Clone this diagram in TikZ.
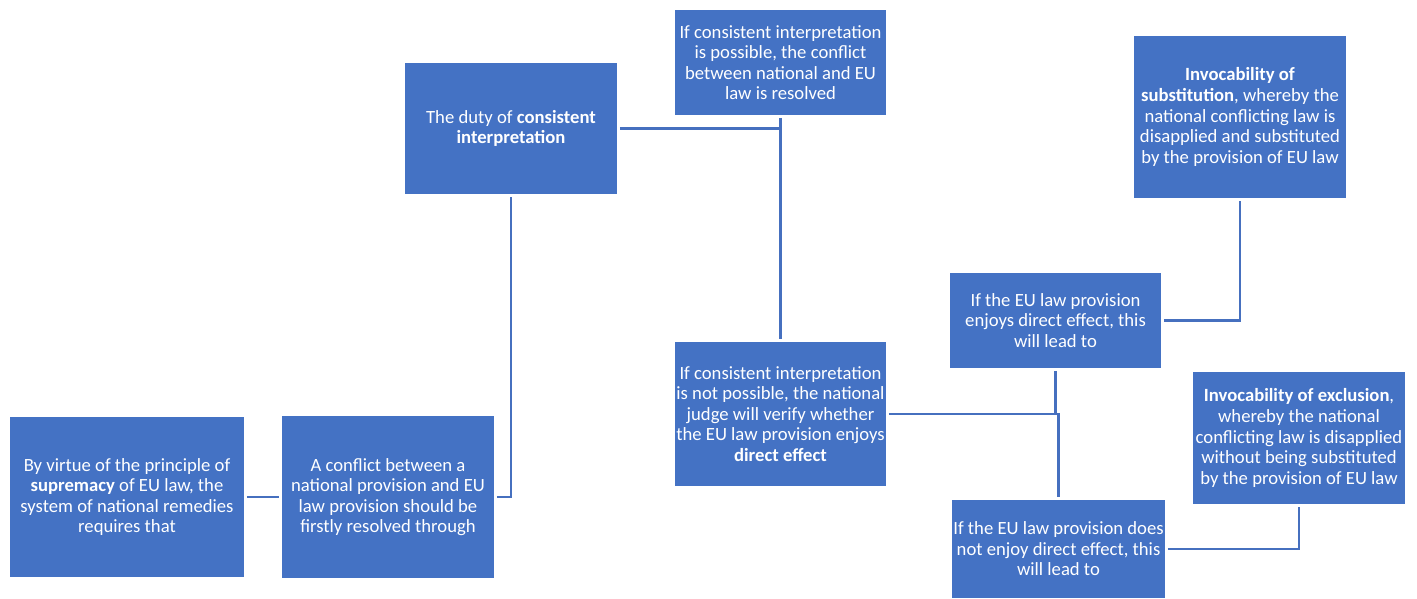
\documentclass[tikz,border=0pt]{standalone}
\usepackage{fontspec}
\setmainfont{Carlito}
\definecolor{boxblue}{HTML}{4472C4}
\definecolor{lineblue}{HTML}{4670BF}
\tikzset{
    lawbox/.style={fill=boxblue,text=white,align=center,inner sep=0pt,
        font=\fontsize{14pt}{15.4pt}\selectfont},
    link/.style={draw=lineblue,line width=2pt,shorten <=2pt,shorten >=2pt},
}

\begin{document}
\begin{tikzpicture}[x=0.75pt,y=-0.75pt]
    \useasboundingbox (0,0) rectangle (1417,599);
    % boxes
    \node[lawbox,minimum width=175.5pt,minimum height=120pt] (sup) at (127,497)
        {By virtue of the principle of\\ \textbf{supremacy} of EU law, the\\ system of national remedies\\ requires that};
    \node[lawbox,minimum width=159pt,minimum height=121.5pt] (conf) at (388,497)
        {A conflict between a\\ national provision and EU\\ law provision should be\\ firstly resolved through};
    \node[lawbox,minimum width=159pt,minimum height=98.25pt] (duty) at (511,128.5)
        {The duty of \textbf{consistent}\\ \textbf{interpretation}};
    \node[lawbox,minimum width=158.25pt,minimum height=78.75pt] (ifpos) at (780.5,62.5)
        {If consistent interpretation\\ is possible, the conflict\\ between national and EU\\ law is resolved};
    \node[lawbox,minimum width=158.25pt,minimum height=108pt] (notpos) at (780.5,414)
        {If consistent interpretation\\ is not possible, the national\\ judge will verify whether\\ the EU law provision enjoys\\ \textbf{direct effect}};
    \node[lawbox,minimum width=158.25pt,minimum height=71.25pt] (enjoys) at (1055.5,320.5)
        {If the EU law provision\\ enjoys direct effect, this\\ will lead to};
    \node[lawbox,minimum width=159.75pt,minimum height=73.5pt] (doesnot) at (1058.5,549)
        {If the EU law provision does\\ not enjoy direct effect, this\\ will lead to};
    \node[lawbox,minimum width=159pt,minimum height=121.5pt] (subst) at (1240,117)
        {\textbf{Invocability of}\\ \textbf{substitution}, whereby the\\ national conflicting law is\\ disapplied and substituted\\ by the provision of EU law};
    \node[lawbox,minimum width=159pt,minimum height=99pt] (excl) at (1299,438)
        {\textbf{Invocability of exclusion},\\ whereby the national\\ conflicting law is disapplied\\ without being substituted\\ by the provision of EU law};
    % connectors
    \draw[link] (sup) -- (conf);
    \draw[link] (conf.east) -| (duty.south);
    \draw[link,shorten >=0pt] (duty.east) -- (duty.east -| ifpos.south);
    \draw[link] (ifpos.south) -- (notpos.north);
    \draw[link] (notpos.east) -| (doesnot.north);
    \draw[link,shorten >=0pt] (enjoys.south) -- (enjoys.south |- notpos.east);
    \draw[link] (enjoys.east) -| (subst.south);
    \draw[link] (doesnot.east) -| (excl.south);
\end{tikzpicture}
\end{document}
